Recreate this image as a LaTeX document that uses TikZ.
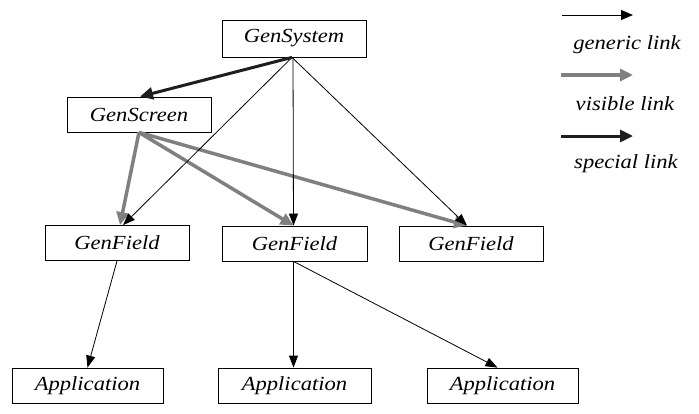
\documentclass[tikz,border=0pt]{standalone}
\usepackage{fontspec}
\setmainfont{Liberation Serif}[FakeStretch=1.13]
\usetikzlibrary{arrows.meta}
\tikzset{
  box/.style={draw, line width=0.8pt, minimum height=35pt, inner sep=0pt,
    font=\fontsize{20}{23}\selectfont\itshape},
  generic/.style={line width=0.8pt, -{Triangle[length=12pt,width=9pt]}},
  visible/.style={draw=linkgray, line width=3.5pt, -{Triangle[length=13pt,width=12pt]}},
  special/.style={draw=specialblack, line width=3pt, -{Triangle[length=13pt,width=12pt]}},
  legendtext/.style={font=\fontsize{20}{23}\selectfont\itshape, inner sep=0pt}
}
\definecolor{linkgray}{RGB}{128,128,128}
\definecolor{specialblack}{RGB}{30,30,30}
\begin{document}
\begin{tikzpicture}[x=1pt,y=-1pt]
\useasboundingbox (0,0) rectangle (699,413);
% nodes
\node[box, minimum width=144pt, minimum height=37pt] (sys) at (294,38.5) {GenSystem};
\node[box, minimum width=144pt] (scr) at (139,114.5) {GenScreen};
\node[box, minimum width=144pt] (f1) at (117,243) {GenField};
\node[box, minimum width=145pt] (f2) at (294.5,243.5) {GenField};
\node[box, minimum width=144pt] (f3) at (471,243.5) {GenField};
\node[box, minimum width=151pt] (a1) at (87.5,385.5) {Application};
\node[box, minimum width=153pt] (a2) at (294.5,385.5) {Application};
\node[box, minimum width=151pt] (a3) at (502.5,385.5) {Application};
% visible links
\draw[visible] (scr.south) -- ([xshift=3pt]f1.north);
\draw[visible] (scr.south) -- ([xshift=-1pt]f2.north);
\draw[visible] (scr.south) -- ([xshift=-4pt]f3.north);
% generic links
\draw[generic] ([xshift=-2pt]sys.south) -- ([xshift=6pt]f1.north);
\draw[generic] ([xshift=-1pt]sys.south) -- ([xshift=-1pt]f2.north);
\draw[generic] ([xshift=-2pt]sys.south) -- ([xshift=-4pt]f3.north);
\draw[generic] (f1.south) -- (a1.north);
\draw[generic] ([xshift=-1pt]f2.south) -- ([xshift=-1pt]a2.north);
\draw[generic] ([xshift=-1pt]f2.south) -- ([xshift=-5pt]a3.north);
% special link
\draw[special] ([xshift=-2pt]sys.south) -- ([xshift=1pt]scr.north);
% legend
\coordinate (g1) at (562,15); \coordinate (g2) at (633,15);
\coordinate (v1) at (561,75); \coordinate (v2) at (633,75);
\coordinate (s1) at (561,136); \coordinate (s2) at (633,136);
\draw[line width=1pt, -{Triangle[length=12pt,width=10pt]}] (g1) -- (g2);
\draw[visible] (v1) -- (v2);
\draw[special] (s1) -- (s2);
\node[legendtext] (gl) at (627,45) {generic link};
\node[legendtext] (vl) at (625,104) {visible link};
\node[legendtext] (sl) at (626,164) {special link};
\end{tikzpicture}
\end{document}
